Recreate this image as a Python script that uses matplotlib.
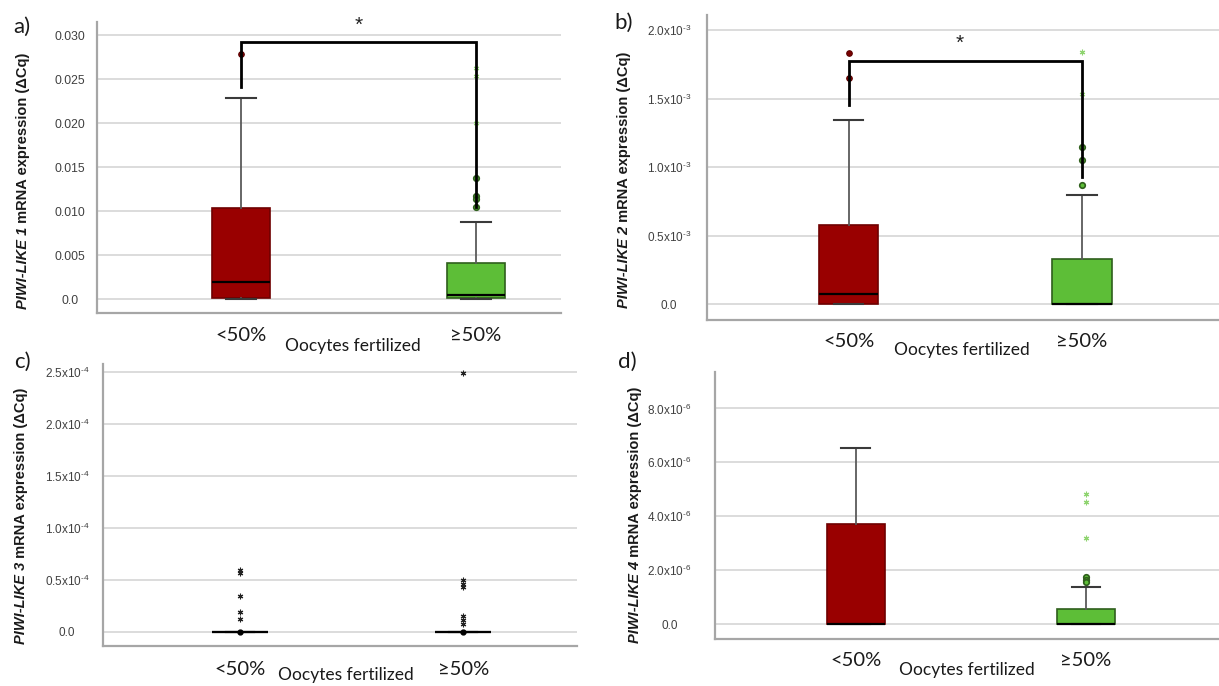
import matplotlib
matplotlib.use("Agg")
import matplotlib.pyplot as plt

plt.rcParams['mathtext.fontset'] = 'custom'
plt.rcParams['mathtext.rm'] = 'Liberation Sans'
plt.rcParams['mathtext.it'] = 'Liberation Sans:italic'
plt.rcParams['mathtext.bf'] = 'Liberation Sans:bold'
plt.rcParams['font.family'] = ['Liberation Sans', 'DejaVu Sans']

# ---------------- data ----------------
categories = ['<50%', '≥50%']
xlabel_text = 'Oocytes fertilized'

# Panel a: PIWI-LIKE 1
a_lt50 = dict(whislo=0.0, q1=0.00015, med=0.0019, q3=0.0103, whishi=0.0228)
a_ge50 = dict(whislo=0.0, q1=0.0001, med=0.0005, q3=0.0041, whishi=0.0088)
a_out_lt50 = [0.0278]
a_out_ge50 = [0.0137, 0.0117, 0.0114, 0.0105]
a_ext_lt50 = []
a_ext_ge50 = [0.0262, 0.0253, 0.0200]
a_yticks = [0.0, 0.005, 0.010, 0.015, 0.020, 0.025, 0.030]
a_yticklabels = ['0.0', '0.005', '0.010', '0.015', '0.020', '0.025', '0.030']
a_bracket = [0.0241, 0.0292, 0.0105]  # left bottom, top, right bottom
a_star = 0.0311

# Panel b: PIWI-LIKE 2
b_lt50 = dict(whislo=0.0, q1=0.0, med=0.073e-3, q3=0.58e-3, whishi=1.343e-3)
b_ge50 = dict(whislo=0.0, q1=0.0, med=0.0, q3=0.328e-3, whishi=0.794e-3)
b_out_lt50 = [1.83e-3, 1.65e-3]
b_out_ge50 = [1.146e-3, 1.054e-3, 0.87e-3]
b_ext_lt50 = []
b_ext_ge50 = [1.837e-3, 1.53e-3]
b_yticks = [0.0, 0.5e-3, 1.0e-3, 1.5e-3, 2.0e-3]
b_yticklabels = ['0.0', r'0.5x10$^{\text{-3}}$', r'1.0x10$^{\text{-3}}$',
                 r'1.5x10$^{\text{-3}}$', r'2.0x10$^{\text{-3}}$']
b_bracket = [1.45e-3, 1.773e-3, 0.93e-3]
b_star = 1.905e-3

# Panel c: PIWI-LIKE 3
c_lt50 = dict(whislo=0.0, q1=0.0, med=0.0, q3=0.0, whishi=0.0)
c_ge50 = dict(whislo=0.0, q1=0.0, med=0.0, q3=0.0, whishi=0.0)
c_out_lt50 = [0.0]
c_out_ge50 = [0.0]
c_ext_lt50 = [0.594e-4, 0.563e-4, 0.344e-4, 0.193e-4, 0.119e-4]
c_ext_ge50 = [2.49e-4, 0.498e-4, 0.457e-4, 0.428e-4, 0.151e-4, 0.113e-4, 0.074e-4]
c_yticks = [0.0, 0.5e-4, 1.0e-4, 1.5e-4, 2.0e-4, 2.5e-4]
c_yticklabels = ['0.0', r'0.5x10$^{\text{-4}}$', r'1.0x10$^{\text{-4}}$',
                 r'1.5x10$^{\text{-4}}$', r'2.0x10$^{\text{-4}}$', r'2.5x10$^{\text{-4}}$']

# Panel d: PIWI-LIKE 4
d_lt50 = dict(whislo=0.0, q1=0.0, med=0.0, q3=3.71e-6, whishi=6.54e-6)
d_ge50 = dict(whislo=0.0, q1=0.0, med=0.0, q3=0.58e-6, whishi=1.37e-6)
d_out_lt50 = []
d_out_ge50 = [1.74e-6, 1.64e-6, 1.58e-6]
d_ext_lt50 = []
d_ext_ge50 = [4.83e-6, 4.52e-6, 3.21e-6]
d_yticks = [0.0, 2.0e-6, 4.0e-6, 6.0e-6, 8.0e-6]
d_yticklabels = ['0.0', r'2.0x10$^{\text{-6}}$', r'4.0x10$^{\text{-6}}$',
                 r'6.0x10$^{\text{-6}}$', r'8.0x10$^{\text{-6}}$']

# ---------------- style ----------------
RED = '#990000'
RED_EDGE = '#6e0000'
GREEN = '#5DBE37'
GREEN_EDGE = '#2f5f1c'
STAR_GREEN = '#8fd470'
GRID = '#d9d9d9'
SPINE = '#a6a6a6'
TICKCOL = '#404040'

W, H = 1219, 686
fig = plt.figure(figsize=(W / 100, H / 100), dpi=100)
renderer = fig.canvas.get_renderer()


def px_rect(l, t, r, b):
    return [l / W, 1 - b / H, (r - l) / W, (b - t) / H]


def panel(rect, xlim, ylim, s_lt, s_ge, out_lt, out_ge, ext_lt, ext_ge,
          yticks, yticklabels, ypad, xpad, box_w=0.25, ytick_fs=8.8,
          colored=True, ext_color=STAR_GREEN):
    ax = fig.add_axes(rect)

    stats = []
    for s in (s_lt, s_ge):
        d = dict(s)
        d['fliers'] = []
        stats.append(d)
    bp = ax.bxp(stats, positions=[0, 1], widths=box_w, patch_artist=True,
                showfliers=False, capwidths=0.125,
                medianprops=dict(color='black', lw=1.6),
                whiskerprops=dict(color='#5a5a5a', lw=1.3),
                capprops=dict(color='#3a3a3a', lw=1.5))
    if colored:
        bp['boxes'][0].set_facecolor(RED)
        bp['boxes'][0].set_edgecolor(RED_EDGE)
        bp['boxes'][1].set_facecolor(GREEN)
        bp['boxes'][1].set_edgecolor(GREEN_EDGE)
        for b in bp['boxes']:
            b.set_linewidth(1.2)
    else:
        for b in bp['boxes']:
            b.set_facecolor('black')
            b.set_edgecolor('black')
            b.set_linewidth(1.5)

    # outliers (circles)
    if colored:
        if out_lt:
            ax.plot([0] * len(out_lt), out_lt, 'o', ms=4, mfc='#7a0000',
                    mec='#5a0000', mew=0.8, zorder=4)
        if out_ge:
            ax.plot([1] * len(out_ge), out_ge, 'o', ms=4, mfc=GREEN,
                    mec=GREEN_EDGE, mew=1.2, zorder=4)
    else:
        for x, o in ((0, out_lt), (1, out_ge)):
            if o:
                ax.plot([x] * len(o), o, 'o', ms=3.5, color='black', zorder=4)
    # extremes (asterisks)
    for x, e in ((0, ext_lt), (1, ext_ge)):
        if e:
            ax.plot([x] * len(e), e, marker=(6, 2, 0), ls='none', ms=4,
                    mew=0.8, color=ext_color, zorder=4)

    ax.set_xlim(*xlim)
    ax.set_ylim(*ylim)
    ax.set_yticks(yticks)
    ax.set_yticklabels(yticklabels, fontsize=ytick_fs, color=TICKCOL)
    for lab in ax.get_yticklabels():
        lab.set_ha('center')
    ax.set_xticks([0, 1])
    ax.set_xticklabels(categories, fontsize=14.5, family=['Lato', 'DejaVu Sans'],
                       color='#1a1a1a')
    for lab in ax.get_xticklabels():
        lab.set_va('center')
    ax.tick_params(axis='y', length=0, pad=ypad)
    ax.tick_params(axis='x', length=0, pad=xpad)
    ax.grid(axis='y', color=GRID, lw=1.3)
    ax.grid(axis='x', visible=False)
    ax.set_axisbelow(True)
    for s in ['top', 'right']:
        ax.spines[s].set_visible(False)
    for s in ['left', 'bottom']:
        ax.spines[s].set_color(SPINE)
        ax.spines[s].set_linewidth(1.6)
    return ax


def add_bracket(ax, br, star_y, star_x=0.5):
    ax.plot([0, 0, 1, 1], [br[0], br[1], br[1], br[2]], color='black', lw=2,
            zorder=5, solid_joinstyle='miter')
    ax.text(star_x, star_y, '*', ha='center', va='center', fontsize=15,
            color='#222222')


def ylabel(xp, yp, num):
    kw = dict(rotation=90, ha='center', va='bottom', fontsize=10.5,
              fontweight='bold', color='#1a1a1a')
    t1 = fig.text(0, 0, 'PIWI-LIKE ' + num, style='italic', **kw)
    t2 = fig.text(0, 0, ' mRNA expression (ΔCq)', **kw)
    h1 = t1.get_window_extent(renderer).height
    h2 = t2.get_window_extent(renderer).height
    ybot = (H - yp) - (h1 + h2) / 2
    t1.set_position((xp / W, ybot / H))
    t2.set_position((xp / W, (ybot + h1) / H))


def panel_letter(xp, yp, s):
    fig.text(xp / W, 1 - yp / H, s, ha='center', va='center', fontsize=16,
             family=['Lato', 'DejaVu Sans'], color='#1a1a1a')


def xtitle(xp, yp):
    fig.text(xp / W, 1 - yp / H, xlabel_text, ha='center', va='center',
             fontsize=12.5, family=['Lato', 'DejaVu Sans'], color='#1a1a1a')


# Panel a
ax_a = panel(px_rect(97, 22, 561, 313), (-0.613, 1.362), (-0.00159, 0.03148),
             a_lt50, a_ge50, a_out_lt50, a_out_ge50, a_ext_lt50, a_ext_ge50,
             a_yticks, a_yticklabels, ypad=19.4, xpad=16.5, box_w=0.247)
add_bracket(ax_a, a_bracket, a_star)
ylabel(23, 181, '1')
panel_letter(22, 27, 'a)')
xtitle(353, 346)

# Panel b
ax_b = panel(px_rect(707, 15, 1219, 320), (-0.607, 1.587), (-0.1144e-3, 2.109e-3),
             b_lt50, b_ge50, b_out_lt50, b_out_ge50, b_ext_lt50, b_ext_ge50,
             b_yticks, b_yticklabels, ypad=27.4, xpad=15.8, box_w=0.253,
             ytick_fs=8.5)
add_bracket(ax_b, b_bracket, b_star, star_x=0.477)
ylabel(624, 180, '2')
panel_letter(624, 23, 'b)')
xtitle(962, 350)

# Panel c
ax_c = panel(px_rect(103, 364, 577, 645.7), (-0.613, 1.509), (-0.135e-4, 2.579e-4),
             c_lt50, c_ge50, c_out_lt50, c_out_ge50, c_ext_lt50, c_ext_ge50,
             c_yticks, c_yticklabels, ypad=25.9, xpad=17.3, box_w=0.25,
             ytick_fs=8.5, colored=False, ext_color='#222222')
ylabel(21, 516, '3')
panel_letter(22, 362, 'c)')
xtitle(346, 675)

# Panel d
ax_d = panel(px_rect(715.3, 371.7, 1219, 639), (-0.610, 1.578), (-0.544e-6, 9.36e-6),
             d_lt50, d_ge50, d_out_lt50, d_out_ge50, d_ext_lt50, d_ext_ge50,
             d_yticks, d_yticklabels, ypad=33.1, xpad=15.8, box_w=0.25,
             ytick_fs=8.5)
ylabel(635, 515, '4')
panel_letter(627, 362, 'd)')
xtitle(967, 670)

fig.savefig('out.png', dpi=100)
